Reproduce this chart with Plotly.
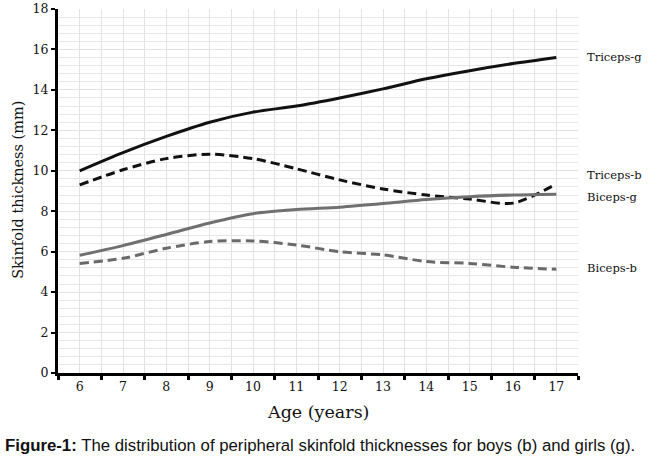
import plotly.graph_objects as go

ages = [6, 7, 8, 9, 10, 11, 12, 13, 14, 15, 16, 17]
triceps_g = [10.0, 10.9, 11.7, 12.4, 12.9, 13.2, 13.6, 14.05, 14.55, 14.95, 15.3, 15.6]
triceps_b = [9.3, 10.05, 10.6, 10.82, 10.6, 10.1, 9.55, 9.1, 8.8, 8.6, 8.4, 9.35]
biceps_g = [5.82, 6.3, 6.85, 7.42, 7.88, 8.08, 8.2, 8.38, 8.58, 8.72, 8.8, 8.84]
biceps_b = [5.42, 5.67, 6.17, 6.5, 6.53, 6.33, 6.0, 5.84, 5.51, 5.42, 5.23, 5.13]
series_names = ["Triceps-g", "Triceps-b", "Biceps-g", "Biceps-b"]
label_y = [15.63, 9.79, 8.70, 5.19]

serif = "DejaVu Serif, Liberation Serif, serif"
dash = "9px,5px"
styles = [
    dict(color="#111111", dash="solid"),
    dict(color="#111111", dash=dash),
    dict(color="#707070", dash="solid"),
    dict(color="#6a6a6a", dash=dash),
]

fig = go.Figure()
for name, vals, st in zip(series_names, [triceps_g, triceps_b, biceps_g, biceps_b], styles):
    fig.add_trace(go.Scatter(x=ages, y=vals, mode="lines", name=name,
                             line=dict(color=st["color"], dash=st["dash"], width=3, shape="spline", smoothing=0.8)))

for name, ly in zip(series_names, label_y):
    fig.add_annotation(x=1.013, xref="paper", y=ly, yref="y", text=name, showarrow=False,
                       xanchor="left", yanchor="middle", font=dict(family=serif, size=11.5, color="#111"))

fig.add_annotation(x=0.5, xref="paper", y=-0.107, yref="paper", text="Age (years)", showarrow=False,
                   xanchor="center", yanchor="middle", font=dict(family=serif, size=17.5, color="#111"))
fig.add_annotation(x=-0.077, xref="paper", y=0.503, yref="paper", text="Skinfold thickness (mm)",
                   textangle=-90, showarrow=False, xanchor="center", yanchor="middle",
                   font=dict(family=serif, size=14.5, color="#111"))
fig.add_annotation(x=-0.106, xref="paper", y=-0.198, yref="paper",
                   text="<b>Figure-1:</b> The distribution of peripheral skinfold thicknesses for boys (b) and girls (g).",
                   showarrow=False, xanchor="left", yanchor="middle",
                   font=dict(family="Liberation Sans, Arial, sans-serif", size=16.8, color="#111"))

fig.update_layout(
    width=650, height=465,
    margin=dict(l=58, r=72, t=9, b=92, autoexpand=False),
    paper_bgcolor="white", plot_bgcolor="white",
    showlegend=False,
    xaxis=dict(range=[5.5, 17.5], tickmode="array", tickvals=ages, ticktext=[str(a) for a in ages],
               ticks="", showgrid=True, gridcolor="#e2e2e2", gridwidth=1, automargin=False,
               showline=True, linecolor="black", linewidth=3, zeroline=False,
               tickfont=dict(family=serif, size=12.5, color="#111"),
               minor=dict(tick0=5.5, dtick=1, ticks="outside", ticklen=4, tickwidth=3, tickcolor="black",
                          showgrid=True, gridcolor="#e2e2e2", gridwidth=1)),
    yaxis=dict(range=[0, 18], dtick=2, ticks="outside", ticklen=4, tickwidth=2, tickcolor="black",
               showgrid=True, gridcolor="#e2e2e2", gridwidth=1, automargin=False,
               showline=True, linecolor="black", linewidth=3, zeroline=False,
               tickfont=dict(family=serif, size=12.5, color="#111"),
               minor=dict(dtick=0.4, showgrid=True, gridcolor="#e6e6e6", gridwidth=1)),
)

fig.write_html("out.html", config={"displayModeBar": False},
               post_script="document.body.style.margin='0px';")
